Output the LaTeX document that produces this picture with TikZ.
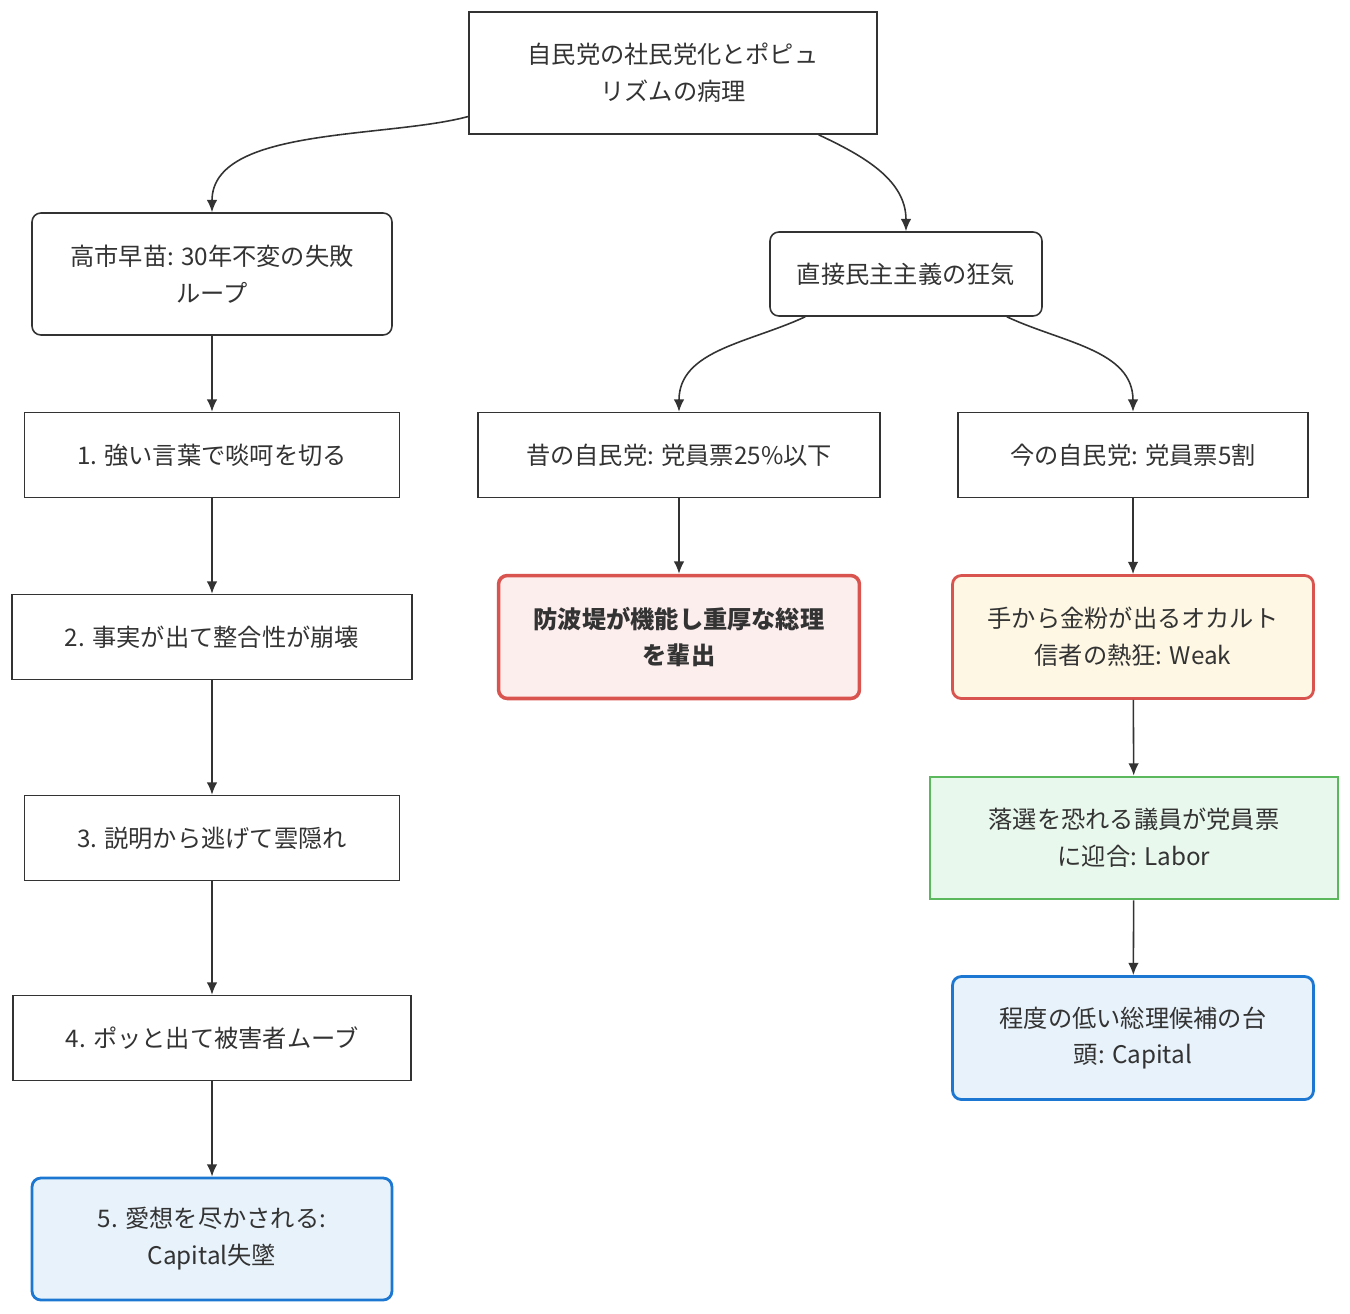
\documentclass[tikz,border=0pt]{standalone}
\usepackage{fontspec}
\setmainfont{Noto Sans CJK JP}
\usetikzlibrary{arrows.meta,positioning}

\definecolor{redfill}{HTML}{FDEEEE}
\definecolor{redline}{HTML}{D9534F}
\definecolor{yelfill}{HTML}{FDF7E4}
\definecolor{grnfill}{HTML}{E9F8EC}
\definecolor{grnline}{HTML}{5CB85C}
\definecolor{blufill}{HTML}{E7F2FA}
\definecolor{bluline}{HTML}{1C77D2}
\definecolor{edge}{HTML}{333333}

\tikzset{
    box/.style={draw=edge, line width=0.9pt, align=center, fill=white, text=edge,
        font=\fontsize{13.8}{21}\selectfont, inner sep=0pt},
    rbox/.style={box, rounded corners=5pt},
    redbox/.style={rbox, fill=redfill, draw=redline, line width=2pt, font=\fontsize{13.8}{21}\selectfont\bfseries},
    yelbox/.style={rbox, fill=yelfill, draw=redline, line width=1.6pt},
    grnbox/.style={box, fill=grnfill, draw=grnline, line width=1.6pt},
    blubox/.style={rbox, fill=blufill, draw=bluline, line width=1.6pt},
    arr/.style={-{Latex[length=7pt,width=6pt]}, draw=edge, line width=0.9pt}
}

\begin{document}
\begin{tikzpicture}[x=0.02cm, y=-0.02cm]
    \useasboundingbox (0,0) rectangle (1350,1313);

    % top
    \node[box, minimum width=8.16cm, minimum height=2.44cm] (top) at (673,73) {自民党の社民党化とポピュ\\リズムの病理};

    % left column
    \node[rbox, minimum width=7.2cm, minimum height=2.44cm] (taka) at (212,274) {高市早苗: 30年不変の失敗\\ループ};
    \node[box, minimum width=7.5cm, minimum height=1.7cm] (s1) at (212,455) {1. 強い言葉で啖呵を切る};
    \node[box, minimum width=8cm, minimum height=1.7cm] (s2) at (212,637) {2. 事実が出て整合性が崩壊};
    \node[box, minimum width=7.5cm, minimum height=1.7cm] (s3) at (212,838) {3. 説明から逃げて雲隠れ};
    \node[box, minimum width=7.96cm, minimum height=1.7cm] (s4) at (212,1038) {4. ポッと出て被害者ムーブ};
    \node[blubox, minimum width=7.2cm, minimum height=2.44cm] (s5) at (212,1239) {5. 愛想を尽かされる:\\Capital失墜};

    % right side
    \node[rbox, minimum width=5.44cm, minimum height=1.68cm] (direct) at (906,274) {直接民主主義の狂気};
    \node[box, minimum width=8.04cm, minimum height=1.7cm] (old) at (679,455) {昔の自民党: 党員票25\%以下};
    \node[redbox, minimum width=7.22cm, minimum height=2.46cm] (dam) at (679,637) {防波堤が機能し重厚な総理\\を輩出};
    \node[box, minimum width=7cm, minimum height=1.7cm] (now) at (1133,455) {今の自民党: 党員票5割};
    \node[yelbox, minimum width=7.22cm, minimum height=2.46cm] (occult) at (1133,637) {手から金粉が出るオカルト\\信者の熱狂: Weak};
    \node[grnbox, minimum width=8.16cm, minimum height=2.44cm] (fear) at (1134,838) {落選を恐れる議員が党員票\\に迎合: Labor};
    \node[blubox, minimum width=7.22cm, minimum height=2.46cm] (low) at (1133,1038) {程度の低い総理候補の台\\頭: Capital};

    \draw[arr] (top.192) to[out=195, in=90, looseness=0.8] (taka.north);
    \draw[arr] (top.337) to[out=-25, in=90] (direct.north);
    \draw[arr] (taka) -- (s1);
    \draw[arr] (s1) -- (s2);
    \draw[arr] (s2) -- (s3);
    \draw[arr] (s3) -- (s4);
    \draw[arr] (s4) -- (s5);
    \draw[arr] (direct.203) to[out=-155, in=90] (old.north);
    \draw[arr] (direct.337) to[out=-25, in=90] (now.north);
    \draw[arr] (old) -- (dam);
    \draw[arr] (now) -- (occult);
    \draw[arr] (occult) -- (fear);
    \draw[arr] (fear) -- (low);
\end{tikzpicture}
\end{document}
